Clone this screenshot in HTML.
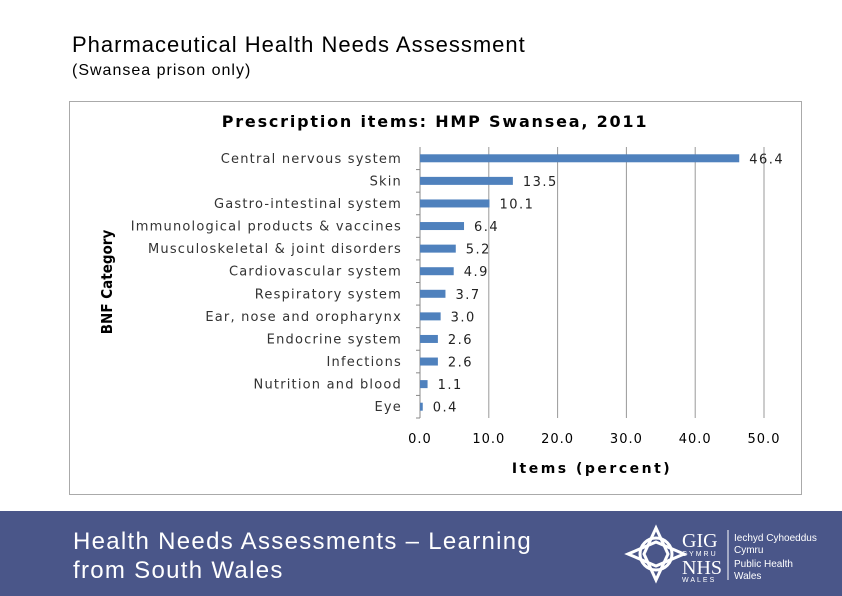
<!DOCTYPE html>
<html><head><meta charset="utf-8"><style>
body{margin:0;width:842px;height:596px;background:#fff;position:relative;overflow:hidden;font-family:"Liberation Sans",sans-serif}
.abs{position:absolute}
</style></head><body>
<div class="abs" style="left:72px;top:32px;font-size:22px;letter-spacing:1px;color:#000">Pharmaceutical Health Needs Assessment</div>
<div class="abs" style="left:72px;top:62px;font-size:16px;letter-spacing:1px;color:#000">(Swansea prison only)</div>
<svg class="abs" style="left:0;top:0" width="842" height="596">
<rect x="69.5" y="101.5" width="732" height="393" fill="#fff" stroke="#aaa"/>
<text x="435" y="127" text-anchor="middle" font-size="16" font-weight="bold" letter-spacing="1.8" font-family="DejaVu Sans, sans-serif">Prescription items: HMP Swansea, 2011</text>
<text transform="translate(112,282) rotate(-90)" text-anchor="middle" font-size="15" font-weight="bold" font-family="DejaVu Sans Condensed, DejaVu Sans, sans-serif">BNF Category</text>
<text x="592" y="473" text-anchor="middle" font-size="14" font-weight="bold" font-family="DejaVu Sans, sans-serif" letter-spacing="2.5">Items (percent)</text>
<g id="grid"></g><g id="bars"></g><g id="labels"></g>
</svg>
<div class="abs" style="left:0;top:511px;width:842px;height:85px;background:#4a5689"></div>
<div class="abs" style="left:73px;top:527px;font-size:24px;letter-spacing:1.3px;line-height:29px;color:#fff">Health Needs Assessments – Learning<br>from South Wales</div>
<svg class="abs" style="left:620px;top:524px" width="220" height="60">
<g fill="none" stroke="#fff" stroke-width="3">
<circle cx="36" cy="30" r="16"/><path d="M36 4 L48 30 L36 56 L24 30 Z"/><path d="M8 30 L36 18 L64 30 L36 42 Z"/>
</g>
<text x="62" y="23" fill="#fff" font-size="20" font-family="Liberation Serif, serif">GIG</text>
<text x="62" y="32" fill="#fff" font-size="7" letter-spacing="2">CYMRU</text>
<text x="62" y="50" fill="#fff" font-size="20" font-family="Liberation Serif, serif">NHS</text>
<text x="62" y="58" fill="#fff" font-size="7" letter-spacing="2">WALES</text>
<line x1="108" y1="6" x2="108" y2="56" stroke="#fff"/>
<text x="114" y="17" fill="#fff" font-size="10">Iechyd Cyhoeddus</text>
<text x="114" y="29" fill="#fff" font-size="10">Cymru</text>
<text x="114" y="43" fill="#fff" font-size="10">Public Health</text>
<text x="114" y="55" fill="#fff" font-size="10">Wales</text>
</svg>
<script>
const categories=["Central nervous system","Skin","Gastro-intestinal system","Immunological products & vaccines","Musculoskeletal & joint disorders","Cardiovascular system","Respiratory system","Ear, nose and oropharynx","Endocrine system","Infections","Nutrition and blood","Eye"];
const values=[46.4,13.5,10.1,6.4,5.2,4.9,3.7,3.0,2.6,2.6,1.1,0.4];
const ticks=[0,10,20,30,40,50];
const NS="http://www.w3.org/2000/svg";
const x0=420,x1=764,xmax=50,yTop=147,yBot=418;
const xs=v=>x0+v/xmax*(x1-x0);
const band=(yBot-yTop)/categories.length;
const ys=i=>yTop+band*(i+0.5);
function mk(t,a,p){const e=document.createElementNS(NS,t);for(const k in a)e.setAttribute(k,a[k]);p.appendChild(e);return e;}
const g=document.getElementById('grid'),b=document.getElementById('bars'),l=document.getElementById('labels');
ticks.forEach(t=>{
 const ln=mk('line',{x1:xs(t),x2:xs(t),y1:yTop,y2:yBot,stroke:t===0?'#888':'#999','stroke-width':1},g);
 
 
 const tx=mk('text',{x:xs(t),y:443,'text-anchor':'middle','font-size':13,'letter-spacing':1,'font-family':'DejaVu Sans, sans-serif'},l);
 tx.textContent=t.toFixed(1);
 
 
});
categories.forEach((c,i)=>{
 const y=ys(i);
 const r=mk('rect',{x:x0,y:y-4,width:xs(values[i])-x0,height:8,fill:'#4f81bd'},b);
 
 
 const tk=mk('line',{x1:x0-4,x2:x0,y1:yTop+band*(i+1),y2:yTop+band*(i+1),stroke:'#888'},g);
 
 
 const cl=mk('text',{x:402,y:y+4.5,'text-anchor':'end','font-size':13,'letter-spacing':1.2,fill:'#333','font-family':'DejaVu Sans, sans-serif'},l);
 cl.textContent=c;
 
 
 const vl=mk('text',{x:xs(values[i])+10,y:y+5,'font-size':13,fill:'#222','font-family':'DejaVu Sans, sans-serif','letter-spacing':1.5},l);
 vl.textContent=values[i].toFixed(1);
 
 
});
</script>
</body></html>
